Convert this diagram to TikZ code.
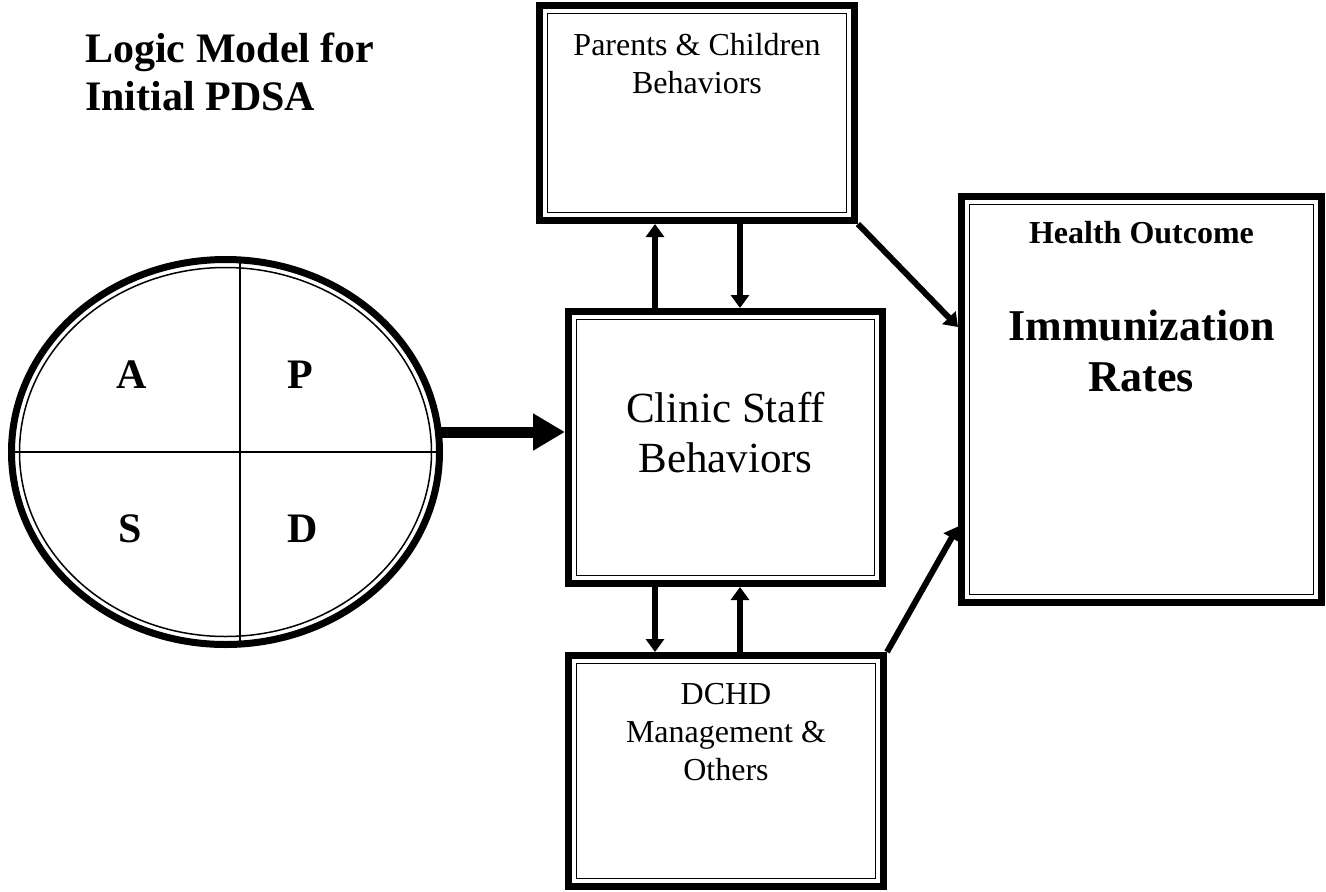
\documentclass[tikz,border=0pt]{standalone}
\usepackage{fontspec}
\setmainfont{Liberation Serif}
\usetikzlibrary{arrows.meta,shapes.geometric}

\begin{document}
\begin{tikzpicture}[x=1pt,y=-1pt,
  frame/.style={draw, line width=7pt, outer sep=3.5pt, inner sep=0pt,
    path picture={\draw[line width=1.5pt]
      ([shift={(8pt,-8pt)}]path picture bounding box.north west) rectangle
      ([shift={(-8pt,8pt)}]path picture bounding box.south east);}},
  cycle/.style={ellipse, draw, line width=7pt, outer sep=3.5pt, inner sep=0pt,
    path picture={
      \draw[line width=1.5pt] (path picture bounding box.center)
        ellipse [x radius=206pt, y radius=184.5pt];
      \draw[line width=1.5pt] ([xshift=14.5pt]path picture bounding box.north)
        -- ([xshift=14.5pt]path picture bounding box.south);
      \draw[line width=1.5pt] (path picture bounding box.west)
        -- (path picture bounding box.east);}},
  bigarrow/.style={line width=11pt, -{Triangle[length=32pt,width=35pt]}},
  link/.style={line width=6pt, -{Triangle[length=13pt,width=18pt]}},
  plain/.style={anchor=base, align=center, inner sep=0pt, font=\fontsize{32}{38}\selectfont},
  big/.style={anchor=base, align=center, inner sep=0pt, font=\fontsize{43}{50}\selectfont},
  letter/.style={anchor=base, inner sep=0pt, font=\bfseries\fontsize{42}{48}\selectfont},
]
\useasboundingbox (0,0) rectangle (1326,892);

% title (base anchor sits on the last line)
\node[anchor=base west, align=left, inner sep=0pt,
  font=\bfseries\fontsize{42}{48}\selectfont] (title) at (85,110)
  {Logic Model for\\Initial PDSA};

% PDSA cycle
\node[cycle, minimum width=428pt, minimum height=385pt] (pdsa) at (225.5,452) {};
\node[letter] (lA) at (132,388) {A};
\node[letter] (lP) at (300,388) {P};
\node[letter] (lS) at (130,542) {S};
\node[letter] (lD) at (303,542) {D};

% boxes
\node[frame, minimum width=315pt, minimum height=215pt] (parents) at (697,113) {};
\node[frame, minimum width=314pt, minimum height=272pt] (clinic) at (725.5,447.5) {};
\node[frame, minimum width=315pt, minimum height=231pt] (dchd) at (726,771) {};
\node[frame, minimum width=360pt, minimum height=406pt] (health) at (1141.5,399.5) {};

% box texts
\node[plain] (ptext) at (697,93) {Parents \& Children\\Behaviors};
\node[big] (ctext) at (725.5,472) {Clinic Staff\\Behaviors};
\node[plain] (dtext) at (726,780) {DCHD\\Management \&\\Others};
\node[plain, font=\bfseries\fontsize{32}{38}\selectfont] (htitle) at (1141.5,243) {Health Outcome};
\node[big, font=\bfseries\fontsize{44}{51}\selectfont] (htext) at (1141.5,391) {Immunization\\Rates};

% connectors
\draw[bigarrow] ([shift={(-3pt,20pt)}]pdsa.east) -- ([yshift=20pt]pdsa.east -| clinic.west);
\draw[link] ([xshift=-70.5pt]clinic.north) -- ([xshift=-70.5pt]clinic.north |- parents.south);
\draw[link] ([xshift=14.5pt]clinic.north |- parents.south) -- ([xshift=14.5pt]clinic.north);
\draw[link] ([xshift=-70.5pt]clinic.south) -- ([xshift=-70.5pt]clinic.south |- dchd.north);
\draw[link] ([xshift=14.5pt]clinic.south |- dchd.north) -- ([xshift=14.5pt]clinic.south);
\draw[link] (parents.south east) -- ([yshift=72.5pt]health.west);
\draw[link] (dchd.north east) -- ([yshift=-127pt]health.west);
\end{tikzpicture}
\end{document}
